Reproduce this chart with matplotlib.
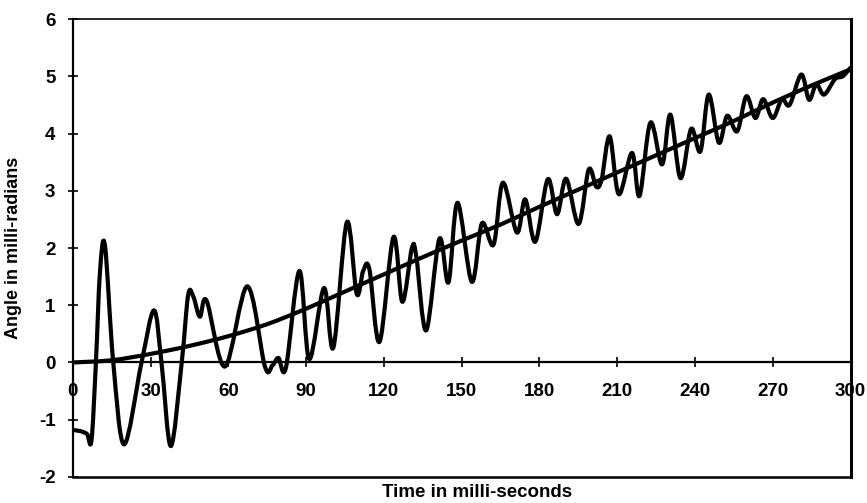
import numpy as np
import matplotlib
matplotlib.use("Agg")
import matplotlib.pyplot as plt
from matplotlib.path import Path
from matplotlib.patches import PathPatch

plt.rcParams['font.family'] = ['Liberation Sans', 'DejaVu Sans']
plt.rcParams['axes.unicode_minus'] = False

# Measured response (oscillating) - time in ms, angle in milli-radians
meas_t = [0, 3, 5.5, 7.2, 8.9, 10.5, 12.4, 15.6, 19.8, 26.5, 31.3, 34.2, 37.8, 42.0,
          44.5, 46.5, 49.0, 51.6, 58.7, 67.3, 74.1, 77.0, 79.3, 82.2,
          87.4, 91.2, 96.9, 100.5, 105.7, 109.5, 112.0, 114.4, 118.3, 123.7,
          127.1, 130.8, 132.5, 136.3, 141.4, 144.9, 148.4, 153.9, 157.8, 162.3, 165.9,
          171.3, 174.5, 178.4, 183.2, 186.8, 190.3, 195.1, 199.0, 201.9, 204.0, 207.1,
          210.6, 215.7, 218.6, 222.8, 227.3, 230.5, 234.4, 238.5, 242.1, 245.3, 249.2,
          252.4, 256.3, 259.8, 263.3, 266.3, 270.0, 273.5, 276.5, 281.0, 284.0, 286.8,
          289.8, 294.0, 297.0, 300.0]
meas_y = [-1.18, -1.2, -1.25, -1.36, 0.0, 1.6, 2.04, 0.0, -1.43, 0.0, 0.91, 0.0, -1.46, 0.0,
          1.18, 1.15, 0.8, 1.08, -0.07, 1.33, -0.07, -0.05, 0.08, -0.09,
          1.6, 0.06, 1.3, 0.26, 2.45, 1.2, 1.6, 1.63, 0.36, 2.19,
          1.06, 2.0, 1.85, 0.56, 2.16, 1.4, 2.79, 1.41, 2.43, 2.06, 3.14,
          2.27, 2.85, 2.11, 3.2, 2.59, 3.21, 2.42, 3.37, 3.07, 3.2, 3.95,
          2.94, 3.66, 2.91, 4.19, 3.46, 4.33, 3.22, 4.08, 3.69, 4.68, 3.84,
          4.31, 4.04, 4.65, 4.27, 4.6, 4.27, 4.6, 4.5, 5.03, 4.59, 4.86,
          4.68, 4.95, 5.0, 5.15]

# Smooth trend curve
trend_t = [0, 15, 30, 45, 60, 75, 90, 105, 120, 135, 150, 165, 180, 195, 210, 225,
           240, 255, 270, 285, 300]
trend_y = [0.0, 0.04, 0.15, 0.29, 0.46, 0.67, 0.94, 1.24, 1.54, 1.84, 2.13, 2.41,
           2.72, 3.02, 3.32, 3.62, 3.92, 4.22, 4.54, 4.84, 5.12]

xticks = [0, 30, 60, 90, 120, 150, 180, 210, 240, 270, 300]
yticks = [-2, -1, 0, 1, 2, 3, 4, 5, 6]


def smooth_path(xs, ys):
    """Catmull-Rom smoothed line rendered as cubic Bezier path (like a smoothed line)."""
    P = np.column_stack([xs, ys]).astype(float)
    n = len(P)
    verts = [P[0]]
    codes = [Path.MOVETO]
    for i in range(n - 1):
        p0 = P[i - 1] if i > 0 else P[i]
        p1 = P[i]
        p2 = P[i + 1]
        p3 = P[i + 2] if i + 2 < n else P[i + 1]
        c1 = p1 + (p2 - p0) / 6.0
        c2 = p2 - (p3 - p1) / 6.0
        verts += [c1, c2, p2]
        codes += [Path.CURVE4] * 3
    return Path(verts, codes)


fig = plt.figure(figsize=(8.67, 5.03), dpi=100)
ax = fig.add_axes([0.084, 0.0517, 0.897, 0.9105])
ax.set_xlim(0, 300)
ax.set_ylim(-2, 6)

ax.add_patch(PathPatch(smooth_path(meas_t, meas_y), fill=False, lw=3.0,
                       edgecolor='black', capstyle='round', joinstyle='round'))
ax.add_patch(PathPatch(smooth_path(trend_t, trend_y), fill=False, lw=3.0,
                       edgecolor='black', capstyle='round', joinstyle='round'))

# x-axis at y = 0, full frame around the plot
ax.spines['bottom'].set_position(('data', 0))
ax.spines['bottom'].set_linewidth(1.6)
ax.spines['left'].set_linewidth(1.6)
ax.spines['top'].set_linewidth(1.2)
ax.spines['right'].set_linewidth(2.2)
ax.axhline(-2, color='black', lw=1.8, clip_on=False)

ax.set_xticks(xticks)
ax.set_yticks(yticks)
ax.tick_params(axis='x', direction='inout', length=7, width=1.2, pad=11,
               labelsize=13.5)
ax.tick_params(axis='y', direction='inout', length=7, width=1.2, pad=9,
               labelsize=13.5)
for lab in ax.get_xticklabels() + ax.get_yticklabels():
    lab.set_fontweight('bold')

ax.set_ylabel('Angle in milli-radians', fontsize=13, fontweight='bold', labelpad=12)
ax.set_xlabel('Time in milli-seconds', fontsize=13.5, fontweight='bold', va='center')
ax.xaxis.set_label_coords(0.52, -0.033)

fig.savefig('out.png', dpi=100)
